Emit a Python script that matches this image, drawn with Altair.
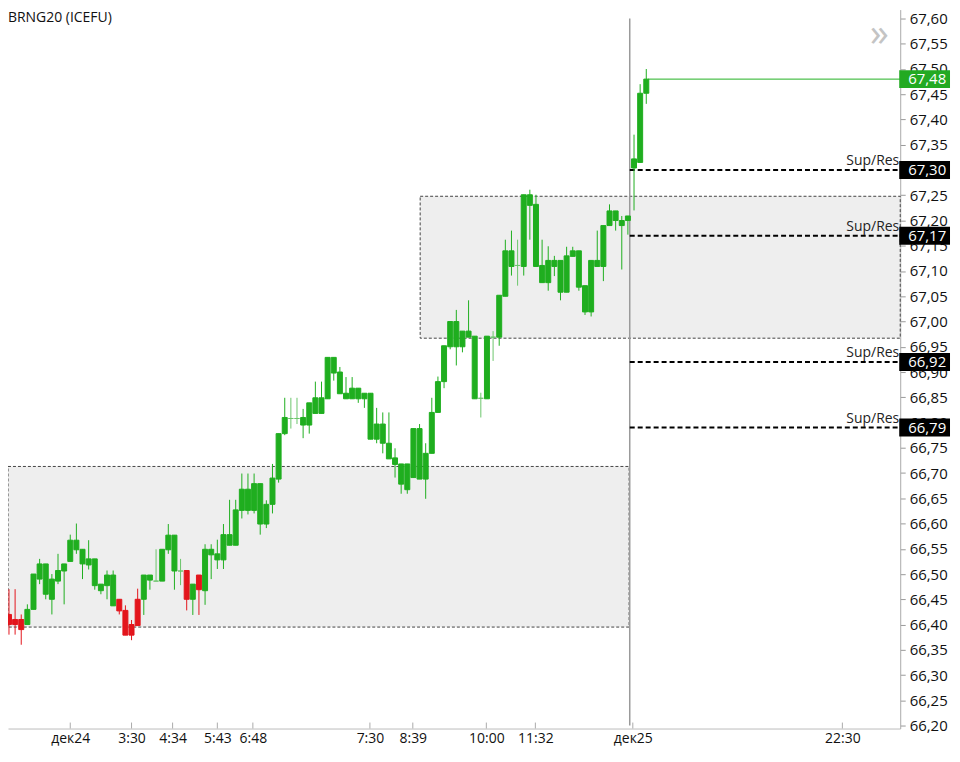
import altair as alt
import pandas as pd

# ---------------- data ----------------
opens = [66.42, 66.41, 66.41, 66.40, 66.43, 66.49, 66.46, 66.45, 66.486, 66.506,
         66.525, 66.548, 66.52, 66.518, 66.477, 66.467, 66.477, 66.437, 66.45, 66.428,
         66.40, 66.45, 66.45, 66.488, 66.486, 66.486, 66.548, 66.506, 66.506, 66.507,
         66.45, 66.498, 66.467, 66.538, 66.528, 66.528, 66.557, 66.557, 66.626, 66.626,
         66.626, 66.599, 66.599, 66.638, 66.688, 66.778, 66.808, 66.808, 66.795, 66.795,
         66.818, 66.818, 66.847, 66.898, 66.857, 66.847, 66.847, 66.847, 66.847, 66.767,
         66.767, 66.759, 66.728, 66.717, 66.678, 66.667, 66.691, 66.688, 66.688, 66.739,
         66.82, 66.881, 66.95, 66.95, 66.95, 66.969, 66.847, 66.848, 66.847, 66.969,
         66.969, 67.05, 67.109, 67.111, 67.109, 67.23, 67.109, 67.077, 67.077, 67.109,
         67.058, 67.058, 67.129, 67.068, 67.019, 67.019, 67.109, 67.109, 67.19, 67.20,
         67.19, 67.20, 67.304, 67.315, 67.452]
highs = [66.47, 66.47, 66.42, 66.44, 66.50, 66.53, 66.52, 66.50, 66.54, 66.52,
         66.578, 66.60, 66.549, 66.567, 66.53, 66.48, 66.507, 66.507, 66.45, 66.438,
         66.409, 66.471, 66.498, 66.498, 66.549, 66.549, 66.599, 66.577, 66.53, 66.507,
         66.48, 66.498, 66.559, 66.559, 66.568, 66.599, 66.647, 66.647, 66.699, 66.699,
         66.699, 66.679, 66.646, 66.718, 66.778, 66.849, 66.849, 66.849, 66.827, 66.839,
         66.881, 66.881, 66.929, 66.929, 66.91, 66.89, 66.89, 66.868, 66.858, 66.858,
         66.829, 66.82, 66.82, 66.749, 66.718, 66.718, 66.788, 66.797, 66.759, 66.849,
         66.891, 66.952, 67.00, 67.023, 66.981, 67.042, 66.971, 66.859, 66.971, 66.981,
         67.052, 67.162, 67.18, 67.162, 67.251, 67.261, 67.251, 67.162, 67.149, 67.13,
         67.121, 67.148, 67.148, 67.14, 67.071, 67.121, 67.18, 67.19, 67.232, 67.219,
         67.209, 67.209, 67.37, 67.47, 67.50]
lows = [66.38, 66.38, 66.36, 66.40, 66.43, 66.48, 66.45, 66.42, 66.48, 66.44,
        66.525, 66.54, 66.49, 66.509, 66.469, 66.46, 66.45, 66.437, 66.42, 66.379,
        66.369, 66.398, 66.419, 66.469, 66.486, 66.486, 66.54, 66.469, 66.478, 66.428,
        66.419, 66.419, 66.439, 66.49, 66.51, 66.51, 66.557, 66.557, 66.61, 66.618,
        66.62, 66.578, 66.591, 66.62, 66.681, 66.775, 66.788, 66.797, 66.769, 66.778,
        66.818, 66.818, 66.847, 66.883, 66.857, 66.847, 66.847, 66.839, 66.829, 66.767,
        66.759, 66.739, 66.728, 66.691, 66.659, 66.659, 66.691, 66.688, 66.649, 66.739,
        66.82, 66.868, 66.945, 66.913, 66.939, 66.969, 66.847, 66.81, 66.847, 66.922,
        66.952, 67.05, 67.091, 67.071, 67.091, 67.162, 67.109, 67.077, 67.061, 67.09,
        67.042, 67.058, 67.129, 67.061, 67.013, 67.01, 67.109, 67.08, 67.19, 67.18,
        67.103, 67.172, 67.22, 67.315, 67.431]
closes = [66.40, 66.40, 66.39, 66.43, 66.50, 66.52, 66.52, 66.49, 66.507, 66.52,
          66.567, 66.567, 66.549, 66.53, 66.53, 66.48, 66.498, 66.498, 66.427, 66.379,
          66.379, 66.398, 66.498, 66.498, 66.486, 66.549, 66.577, 66.577, 66.506, 66.45,
          66.48, 66.469, 66.549, 66.549, 66.54, 66.578, 66.578, 66.627, 66.668, 66.668,
          66.679, 66.679, 66.638, 66.69, 66.778, 66.81, 66.808, 66.808, 66.81, 66.839,
          66.849, 66.849, 66.929, 66.929, 66.90, 66.858, 66.868, 66.868, 66.858, 66.858,
          66.797, 66.797, 66.759, 66.73, 66.718, 66.718, 66.788, 66.788, 66.739, 66.82,
          66.881, 66.952, 67.00, 67.00, 66.981, 66.981, 66.971, 66.848, 66.971, 66.969,
          67.052, 67.14, 67.14, 67.111, 67.251, 67.251, 67.232, 67.111, 67.121, 67.121,
          67.121, 67.13, 67.14, 67.14, 67.071, 67.121, 67.121, 67.19, 67.219, 67.219,
          67.20, 67.209, 67.322, 67.452, 67.48]

xtick_pos = [10, 20, 26.7, 34, 39.8, 58.9, 65.9, 77.9, 85.9, 101.8, 136]
xtick_lab = ["дек24", "3:30", "4:34", "5:43", "6:48", "7:30", "8:39",
             "10:00", "11:32", "дек25", "22:30"]
ytick_vals = [66.20, 66.25, 66.30, 66.35, 66.40, 66.45, 66.50, 66.55, 66.60,
              66.65, 66.70, 66.75, 66.80, 66.85, 66.90, 66.95, 67.00, 67.05,
              67.10, 67.15, 67.20, 67.25, 67.30, 67.35, 67.40, 67.45, 67.50,
              67.55, 67.60]
sr_levels = [67.30, 67.17, 66.92, 66.79]
last_price = 67.48
XD = [-0.16, 145.44]          # visible index range
box_x1 = [-0.16, 67.1]
box_x2 = [101.2, 145.44]
box_lo = [66.395, 66.967]
box_hi = [66.713, 67.248]
day_sep = 101.3
title_text = "BRNG20 (ICEFU)"

# ---------------- layout constants ----------------
W, H = 896, 722
YD = [66.1941, 67.6177]
FONT = "Open Sans"
GREEN = "#1fae1f"
RED = "#e3151c"
DOJI = "#6cc66c"

xs = alt.Scale(domain=XD, nice=False, zero=False, padding=0)
ys = alt.Scale(domain=YD, nice=False, zero=False, padding=0)

candles = pd.DataFrame({"i": list(range(len(opens))), "o": opens, "h": highs,
                        "l": lows, "c": closes})
candles["col"] = [GREEN if c > o else (RED if c < o else DOJI)
                  for o, c in zip(opens, closes)]

boxes = pd.DataFrame({"x1": box_x1, "x2": box_x2, "lo": box_lo, "hi": box_hi})
sr = pd.DataFrame({"lv": sr_levels, "x1": [day_sep] * len(sr_levels),
                   "x2": [XD[1]] * len(sr_levels)})
sr["lab"] = [f"{v:.2f}".replace(".", ",") for v in sr_levels]
lp = pd.DataFrame({"lv": [last_price], "x1": [len(opens) - 1 + 0.3], "x2": [XD[1]],
                   "lab": [f"{last_price:.2f}".replace(".", ",")]})
sep = pd.DataFrame({"x": [day_sep], "lo": [66.20], "hi": [67.60]})
xt = pd.DataFrame({"x": xtick_pos})

lab_expr = ""
for p, t in zip(xtick_pos, xtick_lab):
    lab_expr += f"abs(datum.value - {p}) < 0.01 ? '{t}' : "
lab_expr += "''"

x_axis = alt.Axis(values=xtick_pos, labelExpr=lab_expr, ticks=False, grid=False,
                  domainColor="#bbbbbb", labelFont=FONT, labelFontSize=14,
                  labelColor="#111111", labelPadding=3, labelOverlap=False,
                  labelFlush=False, title=None)
y_axis = alt.Axis(orient="right", values=ytick_vals,
                  labelExpr="replace(format(datum.value, '.2f'), '.', ',')",
                  grid=False, domainColor="#aaaaaa", tickColor="#999999",
                  tickSize=5, labelPadding=4, labelFont=FONT, labelFontSize=15,
                  labelColor="#111111", labelOverlap=False, labelBound=False,
                  title=None)


def X(f):
    return alt.X(f, scale=xs, axis=x_axis)


def Y(f):
    return alt.Y(f, scale=ys, axis=y_axis)


box_layer = alt.Chart(boxes).mark_rect(fill="#eeeeee", stroke="#444444",
                                       strokeDash=[3, 2], strokeWidth=1).encode(
    x=X("x1:Q"), x2="x2:Q", y=Y("lo:Q"), y2="hi:Q")

sep_layer = alt.Chart(sep).mark_rule(color="#9a9a9a", strokeWidth=1.5).encode(
    x=X("x:Q"), y=Y("lo:Q"), y2="hi:Q")

sr_lines = alt.Chart(sr).mark_rule(color="#000000", strokeWidth=2,
                                   strokeDash=[5, 3]).encode(
    x=X("x1:Q"), x2="x2:Q", y=Y("lv:Q"))

lp_line = alt.Chart(lp).mark_rule(color="#22b022", strokeWidth=1).encode(
    x=X("x1:Q"), x2="x2:Q", y=Y("lv:Q"))

wicks = alt.Chart(candles).mark_rule(strokeWidth=1).encode(
    x=X("i:Q"), y=Y("l:Q"), y2="h:Q", color=alt.Color("col:N", scale=None))

bodies = alt.Chart(candles).mark_bar(size=5, strokeWidth=1).encode(
    x=X("i:Q"), y=Y("o:Q"), y2="c:Q",
    color=alt.Color("col:N", scale=None),
    stroke=alt.Stroke("col:N", scale=None))

xticks = alt.Chart(xt).mark_rule(color="#aaaaaa", strokeWidth=1).encode(
    x=X("x:Q"), y=alt.value(H - 6), y2=alt.value(H))

sr_text = alt.Chart(sr).mark_text(align="right", baseline="bottom", dy=-2,
                                  font=FONT, fontSize=14, color="#222222").encode(
    x=alt.value(W - 1), y=Y("lv:Q"), text=alt.value("Sup/Res"))

tag_h = 9.0 / (H / (YD[1] - YD[0]))
tags = pd.concat([sr.assign(bg="#000000"), lp.assign(bg="#22aa22")],
                 ignore_index=True)
tag_rect = alt.Chart(tags).transform_calculate(
    t=f"datum.lv + {tag_h}", b=f"datum.lv - {tag_h}").mark_rect().encode(
    x=alt.value(W - 1), x2=alt.value(W + 50),
    y=Y("t:Q"), y2="b:Q",
    color=alt.Color("bg:N", scale=None))
tag_text = alt.Chart(tags).mark_text(align="left", baseline="middle", font=FONT,
                                     fontSize=15, color="#ffffff").encode(
    x=alt.value(W + 8), y=Y("lv:Q"), text="lab:N")

title = alt.Chart(pd.DataFrame({"t": [title_text]})).mark_text(
    align="left", baseline="top", font=FONT, fontSize=14,
    color="#111111").encode(x=alt.value(0), y=alt.value(1), text="t:N")

chev = alt.Chart(pd.DataFrame({"t": ["»"]})).mark_text(
    align="center", baseline="middle", font=FONT, fontSize=38,
    color="#c4c4c4").encode(x=alt.value(W - 21), y=alt.value(26), text="t:N")

chart = alt.layer(box_layer, sep_layer, sr_lines, lp_line, wicks, bodies, xticks,
                  sr_text, tag_rect, tag_text, title, chev).properties(
    width=W, height=H,
    autosize=alt.AutoSizeParams(type="none"),
    padding={"left": 0, "top": 0, "right": 52, "bottom": 22}
).configure_view(stroke="transparent")

chart.save("out.html", embed_options={"renderer": "svg", "actions": False})
